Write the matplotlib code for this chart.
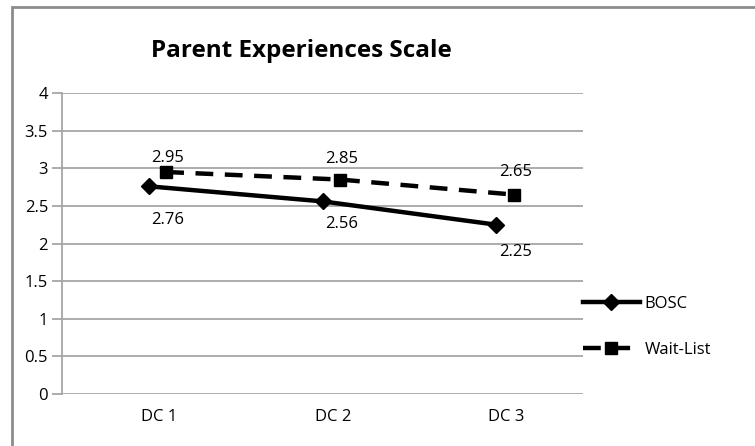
import numpy as np
import matplotlib.pyplot as plt
from matplotlib.patches import Rectangle

categories = ['DC 1', 'DC 2', 'DC 3']
bosc = [2.76, 2.56, 2.25]
wait_list = [2.95, 2.85, 2.65]
bosc_labels = ['2.76', '2.56', '2.25']
wait_labels = ['2.95', '2.85', '2.65']
yticks = [0, 0.5, 1, 1.5, 2, 2.5, 3, 3.5, 4]
ytick_labels = ['0', '0.5', '1', '1.5', '2', '2.5', '3', '3.5', '4']

plt.rcParams['font.family'] = ['Open Sans', 'DejaVu Sans']

W, H = 755, 446
fig = plt.figure(figsize=(W / 100, H / 100), dpi=100)
# plot area in pixels: x 62..583, y 93..394
ax = fig.add_axes([62 / W, 1 - 394 / H, (583 - 62) / W, (394 - 93) / H])

# outer chart border (only top and left visible in reference)
fig.patches.append(Rectangle((12 / W, -0.1), 1.2, 1 - 7 / H + 0.1,
                             transform=fig.transFigure, fill=False,
                             edgecolor='#8c8c8c', lw=2))

x = np.arange(len(categories))
grid_c = '#a6a6a6'
fs = 12

ax.set_xlim(-0.56, 2.44)
ax.set_ylim(0, 4)
ax.set_yticks(yticks)
ax.set_yticklabels(ytick_labels, fontsize=fs)
ax.set_xticks(x)
ax.set_xticklabels(categories, fontsize=fs)
ax.tick_params(axis='x', length=0, pad=11)
ax.tick_params(axis='y', length=7, color=grid_c, width=1.3, pad=3)
ax.yaxis.grid(True, color=grid_c, lw=1.3)
ax.set_axisbelow(True)
for s in ['top', 'right', 'bottom']:
    ax.spines[s].set_visible(False)
ax.spines['left'].set_color(grid_c)
ax.spines['left'].set_linewidth(1.3)

ax.plot(x - 0.06, bosc, color='black', lw=3.2, marker='D', ms=8, label='BOSC')
ax.plot(x + 0.04, wait_list, color='black', lw=3.2, ls=(0, (4, 2.6)), marker='s',
        ms=9, label='Wait-List')

# label offsets (points) as placed in the reference
bosc_off = [-24.5, -16, -20]
wait_off = [10.2, 14.5, 16.5]
for xi, v, t, o in zip(x, bosc, bosc_labels, bosc_off):
    ax.annotate(t, (xi + 0.05, v), xytext=(0, o), textcoords='offset points',
                ha='center', va='center', fontsize=fs)
for xi, v, t, o in zip(x, wait_list, wait_labels, wait_off):
    ax.annotate(t, (xi + 0.05, v), xytext=(0, o), textcoords='offset points',
                ha='center', va='center', fontsize=fs)

fig.text(301 / W, 1 - 51 / H, 'Parent Experiences Scale', ha='center',
         va='center', fontsize=17.5, fontweight='bold')

ax.legend(loc='upper left', bbox_to_anchor=(568 / W, 1 - 281 / H),
          bbox_transform=fig.transFigure, frameon=False, fontsize=fs,
          handlelength=3.4, labelspacing=1.8, handletextpad=0.3)

fig.savefig('out.png', dpi=100)
